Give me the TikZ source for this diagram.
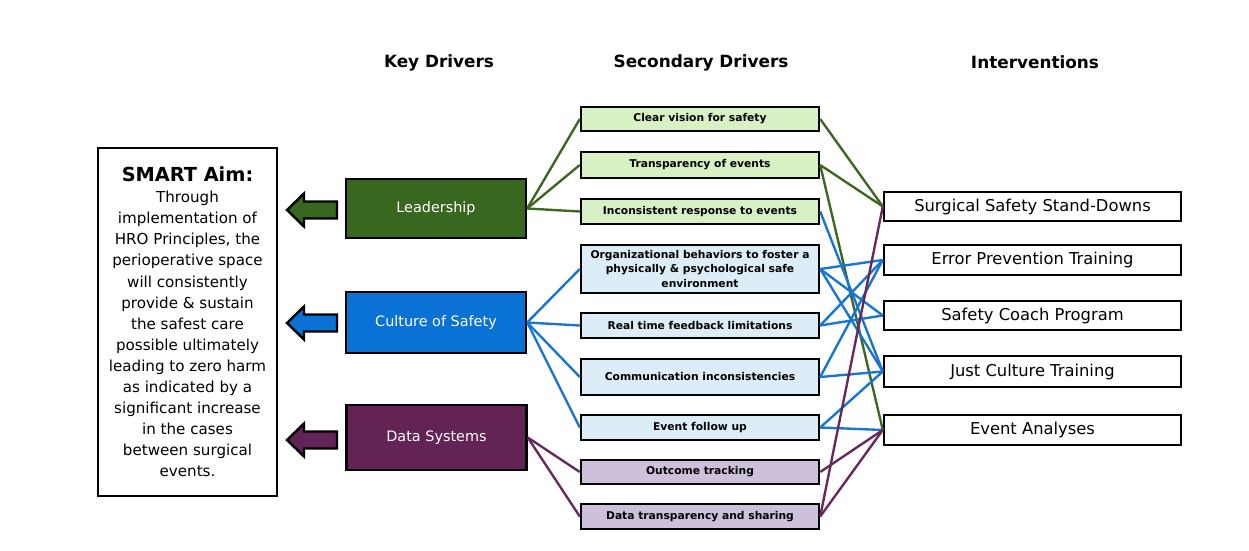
\documentclass[tikz,border=0pt]{standalone}
\usepackage{fontspec}
\setmainfont{DejaVu Sans}
\usepackage{tikz}
\usetikzlibrary{positioning,calc}
\definecolor{leadgreen}{RGB}{56,103,32}
\definecolor{cultblue}{RGB}{10,114,212}
\definecolor{datapurple}{RGB}{99,35,84}
\definecolor{leadlight}{RGB}{216,241,196}
\definecolor{cultlight}{RGB}{221,237,247}
\definecolor{datalight}{RGB}{204,192,218}
\definecolor{leadline}{RGB}{62,102,34}
\definecolor{cultline}{RGB}{24,118,210}
\definecolor{dataline}{RGB}{104,40,92}
\tikzstyle{aimbox}=[draw,line width=1.6pt,minimum width=3.58cm,minimum height=6.96cm,align=center,inner sep=2pt,font=\fontsize{8.6}{12}\selectfont]
\tikzstyle{keybox}=[draw,line width=1.4pt,minimum width=3.6cm,minimum height=1.2cm,text=white,font=\fontsize{8.2}{10}\selectfont]
\tikzstyle{secbox}=[draw,line width=1.4pt,minimum width=4.76cm,minimum height=0.5cm,inner sep=1pt,align=center,font=\fontsize{6.1}{8}\selectfont\bfseries]
\tikzstyle{intbox}=[draw,line width=1.4pt,minimum width=5.94cm,minimum height=0.6cm,font=\fontsize{9.3}{11}\selectfont]
\tikzstyle{heading}=[font=\fontsize{9.6}{11}\selectfont\bfseries]
\tikzstyle{blockarrow}=[draw,line width=1.4pt]
\tikzstyle{link}=[line width=1.35pt]

\begin{document}
\begin{tikzpicture}[x=0.02cm,y=-0.02cm]
  \useasboundingbox[fill=white] (0,0) rectangle (1249,551);

  \node [heading] (hkey) at (439,63) {Key Drivers};
  \node [heading] (hsec) at (701,63) {Secondary Drivers};
  \node [heading] (hint) at (1035,62) {Interventions};

  \node [aimbox] (aim) at (187.5,322) {{\fontsize{11}{14}\selectfont\bfseries SMART Aim:}\\Through\\implementation of\\HRO Principles, the\\perioperative space\\will consistently\\provide \& sustain\\the safest care\\possible ultimately\\leading to zero harm\\as indicated by a\\significant increase\\in the cases\\between surgical\\events.};

  \node [keybox,fill=leadgreen,minimum height=1.18cm] (lead) at (436,208.5) {Leadership};
  \node [keybox,fill=cultblue,minimum height=1.22cm] (cult) at (436,322.5) {Culture of Safety};
  \node [keybox,fill=datapurple,minimum height=1.3cm] (data) at (436.5,437.5) {Data Systems};

  \foreach \y/\c in {210/leadgreen,323/cultblue,440/datapurple}
    \draw [blockarrow,fill=\c] (312,\y) ++(-25,0) -- ++(17,-16.5) -- ++(0,8) -- ++(33,0)
      -- ++(0,17) -- ++(-33,0) -- ++(0,8) -- cycle;

  \node [secbox,fill=leadlight,minimum height=0.48cm] (cv) at (700,119) {Clear vision for safety};
  \node [secbox,fill=leadlight,minimum height=0.52cm] (te) at (700,165) {Transparency of events};
  \node [secbox,fill=leadlight] (ir) at (700,211.5) {Inconsistent response to events};
  \node [secbox,fill=cultlight,minimum height=0.96cm] (ob) at (700,269) {Organizational behaviors to foster a\\physically \& psychological safe\\environment};
  \node [secbox,fill=cultlight] (rt) at (700,325.5) {Real time feedback limitations};
  \node [secbox,fill=cultlight,minimum height=0.72cm] (ci) at (700,377) {Communication inconsistencies};
  \node [secbox,fill=cultlight] (ef) at (700,427.5) {Event follow up};
  \node [secbox,fill=datalight,minimum height=0.48cm] (ot) at (700,472) {Outcome tracking};
  \node [secbox,fill=datalight] (dt) at (700,516.5) {Data transparency and sharing};

  \node [intbox,minimum height=0.58cm] (ssd) at (1032.5,206.5) {Surgical Safety Stand-Downs};
  \node [intbox] (ept) at (1032.5,260) {Error Prevention Training};
  \node [intbox,minimum height=0.58cm] (scp) at (1032.5,315.5) {Safety Coach Program};
  \node [intbox,minimum height=0.62cm] (jct) at (1032.5,371.5) {Just Culture Training};
  \node [intbox] (ea) at (1032.5,430) {Event Analyses};

  \foreach \s in {cv,te,ir}
    \draw [link,leadline] (lead.east) -- (\s.west);
  \foreach \s in {ob,rt,ci,ef}
    \draw [link,cultline] (cult.east) -- (\s.west);
  \foreach \s in {ot,dt}
    \draw [link,dataline] (data.east) -- (\s.west);

  \foreach \a/\b in {cv/ssd,te/ssd,te/ea}
    \draw [link,leadline] (\a.east) -- (\b.west);
  \foreach \a/\b in {ir/jct,ob/ept,ob/scp,ob/jct,rt/ept,rt/scp,ci/ept,ci/jct,ef/jct,ef/ea}
    \draw [link,cultline] (\a.east) -- (\b.west);
  \foreach \a/\b in {ot/ea,dt/ea,dt/ssd}
    \draw [link,dataline] (\a.east) -- (\b.west);
\end{tikzpicture}
\end{document}
